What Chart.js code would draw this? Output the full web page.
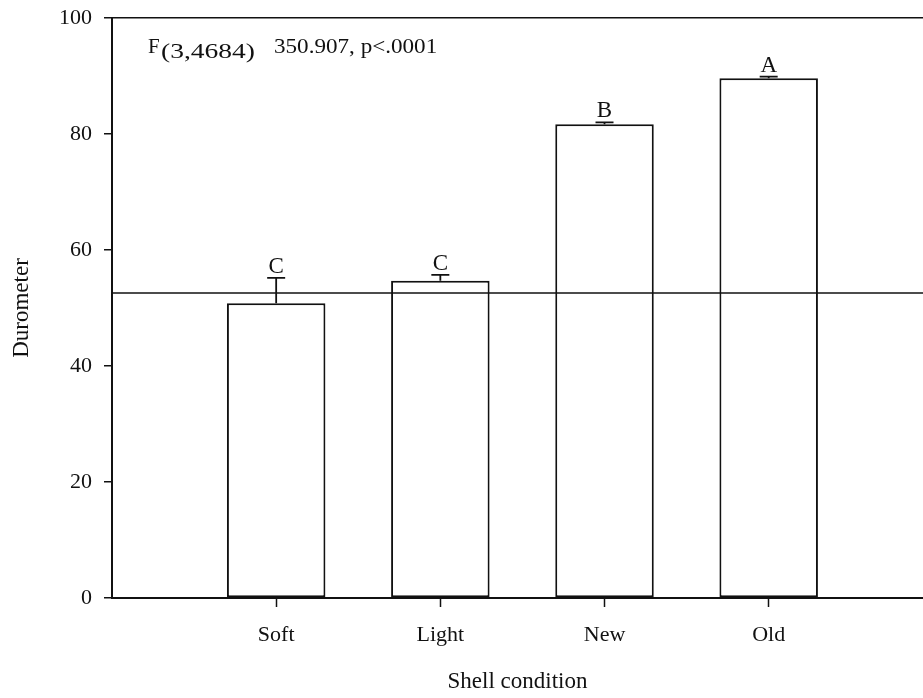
<!DOCTYPE html>
<html>
<head>
<meta charset="utf-8">
<script src="https://cdn.jsdelivr.net/npm/chart.js@4.4.1/dist/chart.umd.min.js"></script>
<style>
  html, body { margin: 0; padding: 0; background: #fff; }
  #wrap { width: 923px; height: 698px; }
</style>
</head>
<body>
<div id="wrap"><canvas id="durometerChart" width="923" height="698"></canvas></div>
<script>
// data
const categories = ["Soft", "Light", "New", "Old"];
const meanDurometer = [50.8, 54.7, 81.7, 89.6];
const errorTop = [55.2, 55.7, 82.0, 89.9];
const groupLetters = ["C", "C", "B", "A"];
const overallMean = 52.6;
const yTicks = [0, 20, 40, 60, 80, 100];
const statLabel = { main: "F", sub: "(3,4684)", rest: "350.907, p<.0001" };

const serif = "'Liberation Serif', 'Times New Roman', serif";
const ink = "#111";

// bars at positions 1..4 on a numeric x axis (the plot is cut off a little on the right)
const barData = meanDurometer.map((v, i) => ({ x: i + 1, y: v }));

// error bars, letters, overall mean line and F statistic
const annotations = {
  id: "annotations",
  afterDatasetsDraw(chart) {
    const ctx = chart.ctx;
    const y = chart.scales.y;
    const area = chart.chartArea;
    const meta = chart.getDatasetMeta(0);

    ctx.save();
    ctx.strokeStyle = ink;
    ctx.fillStyle = ink;

    // horizontal line at the overall mean
    ctx.lineWidth = 1.5;
    ctx.beginPath();
    ctx.moveTo(area.left, y.getPixelForValue(overallMean));
    ctx.lineTo(area.right, y.getPixelForValue(overallMean));
    ctx.stroke();

    categories.forEach(function (c, i) {
      const bar = meta.data[i];
      const top = y.getPixelForValue(errorTop[i]);
      ctx.lineWidth = 1.8;
      ctx.beginPath();
      ctx.moveTo(bar.x, bar.y);
      ctx.lineTo(bar.x, top);
      ctx.moveTo(bar.x - 9, top);
      ctx.lineTo(bar.x + 9, top);
      ctx.stroke();

      ctx.font = "23px " + serif;
      ctx.textAlign = "center";
      ctx.textBaseline = "alphabetic";
      ctx.fillText(groupLetters[i], bar.x, top - 5);
    });

    // F statistic
    ctx.textAlign = "left";
    ctx.textBaseline = "alphabetic";
    ctx.font = "21px " + serif;
    ctx.fillText(statLabel.main, 148, 53);
    ctx.font = "22px " + serif;
    ctx.save();
    ctx.translate(161, 58);
    ctx.scale(1.25, 1);
    ctx.fillText(statLabel.sub, 0, 0);
    ctx.restore();
    ctx.save();
    ctx.translate(274, 53);
    ctx.scale(1.1, 1);
    ctx.font = "21px " + serif;
    ctx.fillText(statLabel.rest, 0, 0);
    ctx.restore();
    ctx.restore();
  }
};

const chart = new Chart(document.getElementById("durometerChart").getContext("2d"), {
  type: "bar",
  data: {
    datasets: [
      {
        data: barData,
        backgroundColor: "#fff",
        borderColor: ink,
        borderWidth: 2,
        borderSkipped: false,
        categoryPercentage: 1,
        barPercentage: 0.6,
      },
    ],
  },
  options: {
    responsive: false,
    animation: false,
    layout: { padding: { top: 18, right: 0, left: 0, bottom: 0 } },
    plugins: {
      legend: { display: false },
      tooltip: { enabled: false },
    },
    scales: {
      x: {
        type: "linear",
        offset: false,
        min: 0,
        max: 4.94,
        afterBuildTicks: (s) => { s.ticks = categories.map((c, i) => ({ value: i + 1 })); },
        grid: {
          offset: false,
          drawOnChartArea: false,
          tickLength: 9,
          tickWidth: 1.5,
          tickColor: ink,
        },
        border: { color: ink, width: 2 },
        ticks: {
          color: ink,
          padding: 15,
          maxRotation: 0,
          autoSkip: false,
          callback: (v) => categories[v - 1],
          font: { family: serif, size: 22 },
        },
        title: {
          display: true,
          text: "Shell condition",
          color: ink,
          padding: { top: 0, bottom: 2 },
          font: { family: serif, size: 23 },
        },
        afterFit: (s) => {
          s.height = 100;
          s.paddingLeft = 0;
          s.paddingRight = 0;
        },
      },
      y: {
        min: 0,
        max: 100,
        afterBuildTicks: (s) => { s.ticks = yTicks.map((v) => ({ value: v })); },
        grid: {
          color: (c) => (c.tick && c.tick.value === 100 ? ink : "rgba(0,0,0,0)"),
          lineWidth: 1.5,
          tickColor: ink,
          tickLength: 8,
          tickWidth: 1.5,
        },
        border: { color: ink, width: 2 },
        ticks: {
          color: ink,
          padding: 12,
          font: { family: serif, size: 22 },
        },
        title: {
          display: true,
          text: "Durometer",
          color: ink,
          padding: { top: 8, bottom: 0 },
          font: { family: serif, size: 23 },
        },
        afterFit: (s) => {
          s.width = 112;
          s.paddingTop = 0;
          s.paddingBottom = 0;
        },
      },
    },
  },
  plugins: [annotations],
});
</script>
</body>
</html>
